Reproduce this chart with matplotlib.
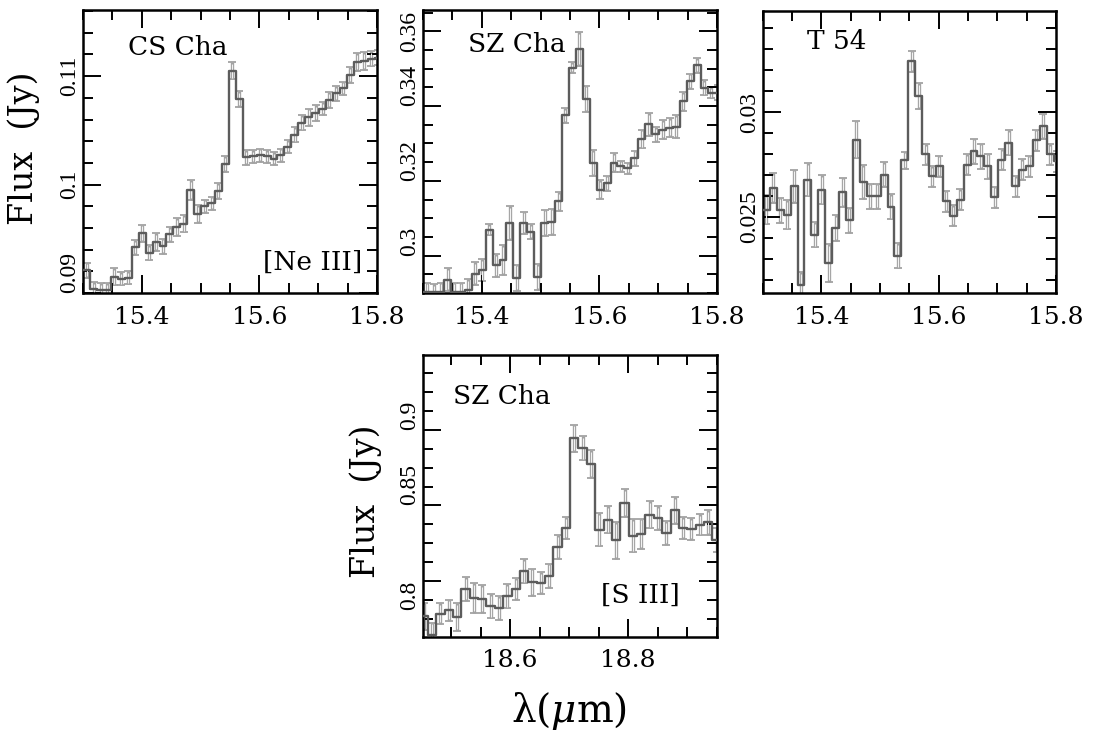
import matplotlib
matplotlib.use('Agg')
import matplotlib.pyplot as plt
from matplotlib.ticker import MultipleLocator

plt.rcParams['font.family'] = 'DejaVu Serif'
plt.rcParams['mathtext.fontset'] = 'dejavuserif'

# wavelength bins (bin centres, micron)
wave_15 = [15.2944, 15.3062, 15.3180, 15.3298, 15.3416, 15.3534, 15.3652, 15.3770,
           15.3888, 15.4006, 15.4124, 15.4242, 15.4360, 15.4478, 15.4596, 15.4714,
           15.4832, 15.4950, 15.5068, 15.5186, 15.5304, 15.5422, 15.5540, 15.5658,
           15.5776, 15.5894, 15.6012, 15.6130, 15.6248, 15.6366, 15.6484, 15.6602,
           15.6720, 15.6838, 15.6956, 15.7074, 15.7192, 15.7310, 15.7428, 15.7546,
           15.7664, 15.7782, 15.7900, 15.8018]
wave_18 = [18.4536, 18.4677, 18.4819, 18.4961, 18.5103, 18.5245, 18.5386, 18.5528,
           18.5670, 18.5812, 18.5954, 18.6095, 18.6237, 18.6379, 18.6521, 18.6662,
           18.6804, 18.6946, 18.7088, 18.7230, 18.7372, 18.7513, 18.7655, 18.7797,
           18.7939, 18.8081, 18.8222, 18.8364, 18.8506, 18.8648, 18.8790, 18.8931,
           18.9073, 18.9215, 18.9357, 18.9499]

# CS Cha, [Ne III]
flux_cs = [0.0921, 0.0921, 0.0904, 0.0903, 0.0903, 0.0915, 0.0913, 0.0914,
           0.0942, 0.0955, 0.0937, 0.0947, 0.0943, 0.0954, 0.0961, 0.0964,
           0.0995, 0.0973, 0.0980, 0.0983, 0.0994, 0.1019, 0.1105, 0.1079,
           0.1025, 0.1026, 0.1027, 0.1026, 0.1024, 0.1027, 0.1035, 0.1046,
           0.1057, 0.1062, 0.1066, 0.1070, 0.1078, 0.1084, 0.1089, 0.1101,
           0.1113, 0.1114, 0.1116, 0.1117]
err_cs = [0.0006, 0.0007, 0.0006, 0.0006, 0.0006, 0.0008, 0.0006, 0.0006,
          0.0007, 0.0008, 0.0007, 0.0008, 0.0007, 0.0007, 0.0008, 0.0008,
          0.0009, 0.0008, 0.0006, 0.0006, 0.0007, 0.0007, 0.0008, 0.0007,
          0.0007, 0.0006, 0.0006, 0.0006, 0.0006, 0.0006, 0.0006, 0.0007,
          0.0007, 0.0008, 0.0007, 0.0006, 0.0007, 0.0007, 0.0006, 0.0007,
          0.0008, 0.0008, 0.0007, 0.0007]

# SZ Cha, [Ne III]
flux_sz15 = [0.2903, 0.2903, 0.2903, 0.2903, 0.2936, 0.2903, 0.2903, 0.2907,
             0.2952, 0.2961, 0.3069, 0.2974, 0.2988, 0.3087, 0.2941, 0.3088,
             0.3064, 0.2943, 0.3088, 0.3091, 0.3145, 0.3375, 0.3503, 0.3552,
             0.3420, 0.3248, 0.3176, 0.3194, 0.3249, 0.3239, 0.3234, 0.3261,
             0.3312, 0.3351, 0.3324, 0.3337, 0.3342, 0.3345, 0.3413, 0.3467,
             0.3509, 0.3449, 0.3436, 0.3436]
err_sz15 = [0.0025, 0.0025, 0.0020, 0.0025, 0.0030, 0.0025, 0.0025, 0.0030,
            0.0030, 0.0030, 0.0015, 0.0030, 0.0040, 0.0045, 0.0035, 0.0030,
            0.0020, 0.0035, 0.0035, 0.0035, 0.0025, 0.0020, 0.0015, 0.0045,
            0.0035, 0.0035, 0.0025, 0.0020, 0.0025, 0.0015, 0.0015, 0.0020,
            0.0025, 0.0030, 0.0020, 0.0025, 0.0025, 0.0030, 0.0025, 0.0020,
            0.0020, 0.0020, 0.0015, 0.0020]

# T 54
flux_t54 = [0.02535, 0.02535, 0.02638, 0.02532, 0.02511, 0.02646, 0.02176, 0.02678,
            0.02415, 0.02630, 0.02280, 0.02447, 0.02618, 0.02484, 0.02869, 0.02666,
            0.02599, 0.02599, 0.02702, 0.02548, 0.02315, 0.02771, 0.03244, 0.03077,
            0.02798, 0.02694, 0.02742, 0.02575, 0.02506, 0.02583, 0.02750, 0.02814,
            0.02790, 0.02742, 0.02595, 0.02774, 0.02854, 0.02646, 0.02726, 0.02742,
            0.02866, 0.02933, 0.02798, 0.02766]
err_t54 = [0.0007, 0.0007, 0.0007, 0.0006, 0.0007, 0.0008, 0.0006, 0.0008,
           0.0006, 0.0007, 0.0009, 0.0006, 0.0007, 0.0006, 0.0009, 0.0008,
           0.0006, 0.0006, 0.0006, 0.0006, 0.0006, 0.0004, 0.0005, 0.0006,
           0.0005, 0.0005, 0.0005, 0.0005, 0.0005, 0.0005, 0.0005, 0.0006,
           0.0006, 0.0006, 0.0005, 0.0005, 0.0006, 0.0005, 0.0005, 0.0005,
           0.0005, 0.0006, 0.0005, 0.0005]

# SZ Cha, [S III]
flux_sz18 = [0.7767, 0.7646, 0.7785, 0.7807, 0.7763, 0.7948, 0.7888, 0.7882,
             0.7833, 0.7822, 0.7899, 0.7948, 0.8064, 0.7992, 0.7987, 0.8036,
             0.8225, 0.8351, 0.8945, 0.8879, 0.8775, 0.8340, 0.8406, 0.8269,
             0.8516, 0.8300, 0.8313, 0.8439, 0.8417, 0.8318, 0.8467, 0.8351,
             0.8344, 0.8373, 0.8388, 0.8273]
err_sz18 = [0.009, 0.008, 0.007, 0.007, 0.009, 0.008, 0.010, 0.009,
            0.008, 0.008, 0.008, 0.007, 0.008, 0.009, 0.007, 0.008,
            0.008, 0.007, 0.009, 0.008, 0.009, 0.011, 0.009, 0.012,
            0.009, 0.011, 0.010, 0.009, 0.008, 0.008, 0.009, 0.007,
            0.007, 0.007, 0.008, 0.008]

xticks_15 = [15.4, 15.6, 15.8]
xlabels_15 = ['15.4', '15.6', '15.8']
xticks_18 = [18.6, 18.8]
xlabels_18 = ['18.6', '18.8']


def draw_panel(ax, wave, flux, err, xlim, ylim, xticks, xlabels, xminor,
               yticks, ylabels, yva, yminor):
    dy = (ylim[1] - ylim[0]) * 0.006
    ax.errorbar(wave, flux, yerr=err, fmt='none', ecolor='#a2a2a2',
                elinewidth=2.4, capsize=3.0, capthick=1.3, zorder=1)
    ax.errorbar(wave, flux, yerr=[e - dy for e in err], fmt='none',
                ecolor='#f2f2f2', elinewidth=0.8, capsize=0, zorder=2)
    ax.step(wave, flux, where='mid', color='#5c5c5c', lw=1.7, zorder=3)
    ax.set_xlim(xlim)
    ax.set_ylim(ylim)
    ax.set_xticks(xticks)
    ax.set_xticklabels(xlabels)
    ax.xaxis.set_minor_locator(MultipleLocator(xminor))
    ax.set_yticks(yticks)
    ax.set_yticklabels(ylabels, rotation=90, family='Liberation Serif')
    ax.yaxis.set_minor_locator(MultipleLocator(yminor))
    for lab, va in zip(ax.get_yticklabels(), yva):
        lab.set_verticalalignment(va)
    ax.tick_params(which='both', direction='in', top=True, right=True, width=1.4)
    ax.tick_params(axis='x', labelsize=18)
    ax.tick_params(axis='y', labelsize=17)
    ax.tick_params(which='major', length=13)
    ax.tick_params(which='minor', length=7)
    ax.tick_params(axis='x', which='major', pad=9)
    ax.tick_params(axis='y', which='major', pad=2)
    for s in ax.spines.values():
        s.set_linewidth(1.8)


fig = plt.figure(figsize=(10.94, 7.36), dpi=100)
ax1 = fig.add_axes([0.0759, 0.6019, 0.2687, 0.3845])
ax2 = fig.add_axes([0.3867, 0.6019, 0.2687, 0.3845])
ax3 = fig.add_axes([0.6972, 0.6019, 0.2681, 0.3832])
ax4 = fig.add_axes([0.3864, 0.1349, 0.2687, 0.3827])

draw_panel(ax1, wave_15, flux_cs, err_cs, (15.3, 15.8), (0.09, 0.1161),
           xticks_15, xlabels_15, 0.05,
           [0.09, 0.10, 0.11], ['0.09', '0.1', '0.11'],
           ['bottom', 'center', 'center'], 0.002)
draw_panel(ax2, wave_15, flux_sz15, err_sz15, (15.3, 15.8), (0.29, 0.3657),
           xticks_15, xlabels_15, 0.05,
           [0.30, 0.32, 0.34, 0.36], ['0.3', '0.32', '0.34', '0.36'],
           ['bottom', 'bottom', 'bottom', 'center'], 0.005)
draw_panel(ax3, wave_15, flux_t54, err_t54, (15.3, 15.8), (0.02137, 0.03483),
           xticks_15, xlabels_15, 0.05,
           [0.025, 0.03], ['0.025', '0.03'],
           ['center', 'center'], 0.001)
draw_panel(ax4, wave_18, flux_sz18, err_sz18, (18.452, 18.95), (0.7632, 0.9495),
           xticks_18, xlabels_18, 0.05,
           [0.80, 0.85, 0.90], ['0.8', '0.85', '0.9'],
           ['top', 'bottom', 'bottom'], 0.0125)

ax1.text(0.153, 0.869, 'CS Cha', transform=ax1.transAxes, fontsize=19,
         ha='left', va='center')
ax1.text(0.949, 0.110, '[Ne III]', transform=ax1.transAxes, fontsize=19,
         ha='right', va='center')
ax2.text(0.153, 0.879, 'SZ Cha', transform=ax2.transAxes, fontsize=19,
         ha='left', va='center')
ax3.text(0.151, 0.892, 'T 54', transform=ax3.transAxes, fontsize=19,
         ha='left', va='center')
ax4.text(0.103, 0.854, 'SZ Cha', transform=ax4.transAxes, fontsize=19,
         ha='left', va='center')
ax4.text(0.875, 0.148, '[S III]', transform=ax4.transAxes, fontsize=19,
         ha='right', va='center')

fig.text(24 / 1094, 1 - 148 / 736, 'Flux  (Jy)', rotation=90, fontsize=24,
         ha='center', va='center')
fig.text(366 / 1094, 1 - 501 / 736, 'Flux  (Jy)', rotation=90, fontsize=24,
         ha='center', va='center')
fig.text(569.5 / 1094, 1 - 711 / 736, r'λ($\mu$m)', fontsize=28,
         ha='center', va='center')

fig.savefig('out.png', dpi=100)
